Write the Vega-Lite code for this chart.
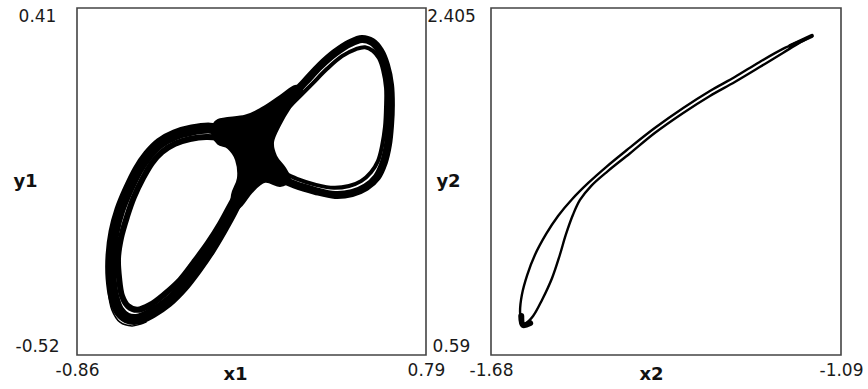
{
  "$schema": "https://vega.github.io/schema/vega-lite/v6.json",
  "autosize": {"type": "none"},
  "padding": {"left": 77, "top": 8, "right": 791, "bottom": 381},
  "background": "white",
  "bounds": "flush",
  "spacing": 65,
  "config": {
    "view": {"stroke": "#444", "strokeWidth": 1.6},
    "axis": {
      "grid": false, "domain": false, "ticks": false, "tickSize": 0,
      "labelFont": "DejaVu Sans", "labelFontSize": 17, "labelColor": "#1a1a1a",
      "titleFont": "DejaVu Sans", "titleFontSize": 18, "titleFontWeight": "bold", "titleColor": "#111",
      "labelOverlap": false, "labelBound": false
    },
    "line": {"color": "black", "strokeCap": "round", "strokeJoin": "round", "interpolate": "catmull-rom"}
  },
  "datasets": {
    "left": [
      {"s": "R", "i": 0, "x": -0.052, "y": 0.008},
      {"s": "R", "i": 1, "x": 0.015, "y": 0.088},
      {"s": "R", "i": 2, "x": 0.076, "y": 0.129},
      {"s": "R", "i": 3, "x": 0.147, "y": 0.169},
      {"s": "R", "i": 4, "x": 0.218, "y": 0.212},
      {"s": "R", "i": 5, "x": 0.289, "y": 0.255},
      {"s": "R", "i": 6, "x": 0.360, "y": 0.290},
      {"s": "R", "i": 7, "x": 0.431, "y": 0.316},
      {"s": "R", "i": 8, "x": 0.487, "y": 0.327},
      {"s": "R", "i": 9, "x": 0.535, "y": 0.319},
      {"s": "R", "i": 10, "x": 0.573, "y": 0.295},
      {"s": "R", "i": 11, "x": 0.601, "y": 0.257},
      {"s": "R", "i": 12, "x": 0.620, "y": 0.204},
      {"s": "R", "i": 13, "x": 0.624, "y": 0.150},
      {"s": "R", "i": 14, "x": 0.620, "y": 0.096},
      {"s": "R", "i": 15, "x": 0.610, "y": 0.043},
      {"s": "R", "i": 16, "x": 0.591, "y": -0.003},
      {"s": "R", "i": 17, "x": 0.558, "y": -0.043},
      {"s": "R", "i": 18, "x": 0.506, "y": -0.070},
      {"s": "R", "i": 19, "x": 0.440, "y": -0.086},
      {"s": "R", "i": 20, "x": 0.360, "y": -0.091},
      {"s": "R", "i": 21, "x": 0.265, "y": -0.080},
      {"s": "R", "i": 22, "x": 0.171, "y": -0.064},
      {"s": "R", "i": 23, "x": 0.090, "y": -0.043},
      {"s": "R", "i": 24, "x": 0.015, "y": -0.016},
      {"s": "R", "i": 25, "x": -0.052, "y": 0.008},

      {"s": "R2", "i": 0, "x": -0.018, "y": 0.029},
      {"s": "R2", "i": 1, "x": 0.043, "y": 0.083},
      {"s": "R2", "i": 2, "x": 0.109, "y": 0.126},
      {"s": "R2", "i": 3, "x": 0.180, "y": 0.166},
      {"s": "R2", "i": 4, "x": 0.251, "y": 0.206},
      {"s": "R2", "i": 5, "x": 0.322, "y": 0.247},
      {"s": "R2", "i": 6, "x": 0.393, "y": 0.281},
      {"s": "R2", "i": 7, "x": 0.459, "y": 0.300},
      {"s": "R2", "i": 8, "x": 0.502, "y": 0.305},
      {"s": "R2", "i": 9, "x": 0.539, "y": 0.295},
      {"s": "R2", "i": 10, "x": 0.568, "y": 0.275},
      {"s": "R2", "i": 11, "x": 0.587, "y": 0.244},
      {"s": "R2", "i": 12, "x": 0.601, "y": 0.196},
      {"s": "R2", "i": 13, "x": 0.601, "y": 0.145},
      {"s": "R2", "i": 14, "x": 0.596, "y": 0.091},
      {"s": "R2", "i": 15, "x": 0.582, "y": 0.040},
      {"s": "R2", "i": 16, "x": 0.563, "y": 0.000},
      {"s": "R2", "i": 17, "x": 0.530, "y": -0.030},
      {"s": "R2", "i": 18, "x": 0.483, "y": -0.054},
      {"s": "R2", "i": 19, "x": 0.426, "y": -0.067},
      {"s": "R2", "i": 20, "x": 0.355, "y": -0.072},
      {"s": "R2", "i": 21, "x": 0.270, "y": -0.064},
      {"s": "R2", "i": 22, "x": 0.180, "y": -0.048},
      {"s": "R2", "i": 23, "x": 0.100, "y": -0.027},
      {"s": "R2", "i": 24, "x": 0.024, "y": -0.005},

      {"s": "L", "i": 0, "x": -0.052, "y": 0.008},
      {"s": "L", "i": 1, "x": -0.089, "y": 0.056},
      {"s": "L", "i": 2, "x": -0.146, "y": 0.078},
      {"s": "L", "i": 3, "x": -0.231, "y": 0.088},
      {"s": "L", "i": 4, "x": -0.316, "y": 0.083},
      {"s": "L", "i": 5, "x": -0.397, "y": 0.070},
      {"s": "L", "i": 6, "x": -0.468, "y": 0.048},
      {"s": "L", "i": 7, "x": -0.524, "y": 0.016},
      {"s": "L", "i": 8, "x": -0.572, "y": -0.024},
      {"s": "L", "i": 9, "x": -0.619, "y": -0.078},
      {"s": "L", "i": 10, "x": -0.657, "y": -0.131},
      {"s": "L", "i": 11, "x": -0.685, "y": -0.190},
      {"s": "L", "i": 12, "x": -0.699, "y": -0.252},
      {"s": "L", "i": 13, "x": -0.699, "y": -0.314},
      {"s": "L", "i": 14, "x": -0.685, "y": -0.367},
      {"s": "L", "i": 15, "x": -0.661, "y": -0.402},
      {"s": "L", "i": 16, "x": -0.624, "y": -0.421},
      {"s": "L", "i": 17, "x": -0.572, "y": -0.424},
      {"s": "L", "i": 18, "x": -0.505, "y": -0.407},
      {"s": "L", "i": 19, "x": -0.430, "y": -0.378},
      {"s": "L", "i": 20, "x": -0.359, "y": -0.338},
      {"s": "L", "i": 21, "x": -0.293, "y": -0.290},
      {"s": "L", "i": 22, "x": -0.231, "y": -0.239},
      {"s": "L", "i": 23, "x": -0.174, "y": -0.185},
      {"s": "L", "i": 24, "x": -0.122, "y": -0.131},
      {"s": "L", "i": 25, "x": -0.080, "y": -0.078},
      {"s": "L", "i": 26, "x": -0.056, "y": -0.032},
      {"s": "L", "i": 27, "x": -0.052, "y": 0.008},

      {"s": "L2", "i": 0, "x": -0.042, "y": -0.011},
      {"s": "L2", "i": 1, "x": -0.099, "y": 0.035},
      {"s": "L2", "i": 2, "x": -0.160, "y": 0.056},
      {"s": "L2", "i": 3, "x": -0.241, "y": 0.064},
      {"s": "L2", "i": 4, "x": -0.326, "y": 0.059},
      {"s": "L2", "i": 5, "x": -0.397, "y": 0.046},
      {"s": "L2", "i": 6, "x": -0.458, "y": 0.024},
      {"s": "L2", "i": 7, "x": -0.505, "y": -0.005},
      {"s": "L2", "i": 8, "x": -0.548, "y": -0.046},
      {"s": "L2", "i": 9, "x": -0.591, "y": -0.097},
      {"s": "L2", "i": 10, "x": -0.624, "y": -0.150},
      {"s": "L2", "i": 11, "x": -0.652, "y": -0.206},
      {"s": "L2", "i": 12, "x": -0.666, "y": -0.260},
      {"s": "L2", "i": 13, "x": -0.661, "y": -0.314},
      {"s": "L2", "i": 14, "x": -0.647, "y": -0.362},
      {"s": "L2", "i": 15, "x": -0.619, "y": -0.389},
      {"s": "L2", "i": 16, "x": -0.576, "y": -0.399},
      {"s": "L2", "i": 17, "x": -0.515, "y": -0.386},
      {"s": "L2", "i": 18, "x": -0.444, "y": -0.356},
      {"s": "L2", "i": 19, "x": -0.373, "y": -0.319},
      {"s": "L2", "i": 20, "x": -0.307, "y": -0.271},
      {"s": "L2", "i": 21, "x": -0.241, "y": -0.220},
      {"s": "L2", "i": 22, "x": -0.184, "y": -0.169},
      {"s": "L2", "i": 23, "x": -0.132, "y": -0.115},
      {"s": "L2", "i": 24, "x": -0.089, "y": -0.072},
      {"s": "L2", "i": 25, "x": -0.042, "y": -0.011},

      {"s": "L3", "i": 0, "x": -0.713, "y": -0.346},
      {"s": "L3", "i": 1, "x": -0.695, "y": -0.399},
      {"s": "L3", "i": 2, "x": -0.657, "y": -0.432},
      {"s": "L3", "i": 3, "x": -0.600, "y": -0.442},
      {"s": "L3", "i": 4, "x": -0.534, "y": -0.432},

      {"s": "B", "i": 0, "x": -0.193, "y": 0.110},
      {"s": "B", "i": 1, "x": -0.066, "y": 0.121},
      {"s": "B", "i": 2, "x": 0.015, "y": 0.142},
      {"s": "B", "i": 3, "x": 0.100, "y": 0.174},
      {"s": "B", "i": 4, "x": 0.171, "y": 0.201},
      {"s": "B", "i": 5, "x": 0.204, "y": 0.185},
      {"s": "B", "i": 6, "x": 0.147, "y": 0.142},
      {"s": "B", "i": 7, "x": 0.100, "y": 0.096},
      {"s": "B", "i": 8, "x": 0.067, "y": 0.051},
      {"s": "B", "i": 9, "x": 0.081, "y": 0.013},
      {"s": "B", "i": 10, "x": 0.123, "y": -0.019},
      {"s": "B", "i": 11, "x": 0.147, "y": -0.051},
      {"s": "B", "i": 12, "x": 0.100, "y": -0.067},
      {"s": "B", "i": 13, "x": 0.029, "y": -0.056},
      {"s": "B", "i": 14, "x": -0.033, "y": -0.083},
      {"s": "B", "i": 15, "x": -0.080, "y": -0.118},
      {"s": "B", "i": 16, "x": -0.127, "y": -0.137},
      {"s": "B", "i": 17, "x": -0.127, "y": -0.090},
      {"s": "B", "i": 18, "x": -0.099, "y": -0.046},
      {"s": "B", "i": 19, "x": -0.108, "y": 0.003},
      {"s": "B", "i": 20, "x": -0.146, "y": 0.035},
      {"s": "B", "i": 21, "x": -0.193, "y": 0.046},
      {"s": "B", "i": 22, "x": -0.222, "y": 0.078}
    ],
    "right": [
      {"s": "P", "i": 0, "x": -1.628, "y": 0.752},
      {"s": "P", "i": 1, "x": -1.631, "y": 0.815},
      {"s": "P", "i": 2, "x": -1.628, "y": 0.904},
      {"s": "P", "i": 3, "x": -1.619, "y": 1.008},
      {"s": "P", "i": 4, "x": -1.606, "y": 1.113},
      {"s": "P", "i": 5, "x": -1.587, "y": 1.223},
      {"s": "P", "i": 6, "x": -1.567, "y": 1.317},
      {"s": "P", "i": 7, "x": -1.543, "y": 1.406},
      {"s": "P", "i": 8, "x": -1.516, "y": 1.490},
      {"s": "P", "i": 9, "x": -1.486, "y": 1.573},
      {"s": "P", "i": 10, "x": -1.451, "y": 1.662},
      {"s": "P", "i": 11, "x": -1.404, "y": 1.777},
      {"s": "P", "i": 12, "x": -1.356, "y": 1.882},
      {"s": "P", "i": 13, "x": -1.311, "y": 1.971},
      {"s": "P", "i": 14, "x": -1.269, "y": 2.044},
      {"s": "P", "i": 15, "x": -1.227, "y": 2.123},
      {"s": "P", "i": 16, "x": -1.188, "y": 2.191},
      {"s": "P", "i": 17, "x": -1.159, "y": 2.232},
      {"s": "P", "i": 18, "x": -1.139, "y": 2.259},
      {"s": "P", "i": 19, "x": -1.159, "y": 2.225},
      {"s": "P", "i": 20, "x": -1.188, "y": 2.170},
      {"s": "P", "i": 21, "x": -1.227, "y": 2.096},
      {"s": "P", "i": 22, "x": -1.269, "y": 2.018},
      {"s": "P", "i": 23, "x": -1.311, "y": 1.945},
      {"s": "P", "i": 24, "x": -1.356, "y": 1.856},
      {"s": "P", "i": 25, "x": -1.404, "y": 1.751},
      {"s": "P", "i": 26, "x": -1.446, "y": 1.644},
      {"s": "P", "i": 27, "x": -1.483, "y": 1.552},
      {"s": "P", "i": 28, "x": -1.511, "y": 1.475},
      {"s": "P", "i": 29, "x": -1.530, "y": 1.401},
      {"s": "P", "i": 30, "x": -1.542, "y": 1.322},
      {"s": "P", "i": 31, "x": -1.554, "y": 1.218},
      {"s": "P", "i": 32, "x": -1.564, "y": 1.113},
      {"s": "P", "i": 33, "x": -1.577, "y": 0.993},
      {"s": "P", "i": 34, "x": -1.594, "y": 0.878},
      {"s": "P", "i": 35, "x": -1.609, "y": 0.794},
      {"s": "P", "i": 36, "x": -1.621, "y": 0.757},
      {"s": "P", "i": 37, "x": -1.628, "y": 0.752},

      {"s": "T", "i": 0, "x": -1.629, "y": 0.794},
      {"s": "T", "i": 1, "x": -1.626, "y": 0.747},
      {"s": "T", "i": 2, "x": -1.614, "y": 0.757},

      {"s": "T2", "i": 0, "x": -1.176, "y": 2.206},
      {"s": "T2", "i": 1, "x": -1.139, "y": 2.259}
    ]
  },
  "hconcat": [
    {
      "width": 349,
      "height": 347,
      "data": {"name": "left"},
      "encoding": {
        "x": {
          "field": "x", "type": "quantitative",
          "scale": {"domain": [-0.86, 0.79], "nice": false, "zero": false},
          "axis": {
            "values": [-0.86, 0.79], "labelExpr": "'' + datum.value",
            "labelFlush": false, "labelPadding": 7,
            "title": "x1", "titleX": 158, "titleY": 10, "titleAlign": "center", "titleBaseline": "top"
          }
        },
        "y": {
          "field": "y", "type": "quantitative",
          "scale": {"domain": [-0.52, 0.41], "nice": false, "zero": false},
          "axis": {
            "values": [-0.52, 0.41], "labelExpr": "'' + datum.value",
            "labelFlush": true, "labelAlign": "center", "labelPadding": 40,
            "title": "y1", "titleAngle": 0, "titleX": -52, "titleY": 173.5, "titleAlign": "center", "titleBaseline": "middle"
          }
        },
        "order": {"field": "i", "type": "quantitative"}
      },
      "layer": [
        {"transform": [{"filter": "datum.s == 'L'"}], "mark": {"type": "line", "strokeWidth": 11}},
        {"transform": [{"filter": "datum.s == 'L2'"}], "mark": {"type": "line", "strokeWidth": 6}},
        {"transform": [{"filter": "datum.s == 'L3'"}], "mark": {"type": "line", "strokeWidth": 1.5}},
        {"transform": [{"filter": "datum.s == 'R'"}], "mark": {"type": "line", "strokeWidth": 8}},
        {"transform": [{"filter": "datum.s == 'R2'"}], "mark": {"type": "line", "strokeWidth": 4}},
        {"transform": [{"filter": "datum.s == 'B'"}], "mark": {"type": "line", "strokeWidth": 2, "fill": "black", "interpolate": "cardinal-closed"}}
      ]
    },
    {
      "width": 350,
      "height": 347,
      "data": {"name": "right"},
      "encoding": {
        "x": {
          "field": "x", "type": "quantitative",
          "scale": {"domain": [-1.68, -1.09], "nice": false, "zero": false},
          "axis": {
            "values": [-1.68, -1.09], "labelExpr": "'' + datum.value",
            "labelFlush": false, "labelPadding": 7,
            "title": "x2", "titleX": 160, "titleY": 10, "titleAlign": "center", "titleBaseline": "top"
          }
        },
        "y": {
          "field": "y", "type": "quantitative",
          "scale": {"domain": [0.59, 2.405], "nice": false, "zero": false},
          "axis": {
            "values": [0.59, 2.405], "labelExpr": "'' + datum.value",
            "labelFlush": true, "labelAlign": "center", "labelPadding": 40,
            "title": "y2", "titleAngle": 0, "titleX": -43, "titleY": 173.5, "titleAlign": "center", "titleBaseline": "middle"
          }
        },
        "order": {"field": "i", "type": "quantitative"}
      },
      "layer": [
        {"transform": [{"filter": "datum.s == 'P'"}], "mark": {"type": "line", "strokeWidth": 2.4}},
        {"transform": [{"filter": "datum.s == 'T'"}], "mark": {"type": "line", "strokeWidth": 6}},
        {"transform": [{"filter": "datum.s == 'T2'"}], "mark": {"type": "line", "strokeWidth": 4}}
      ]
    }
  ]
}
